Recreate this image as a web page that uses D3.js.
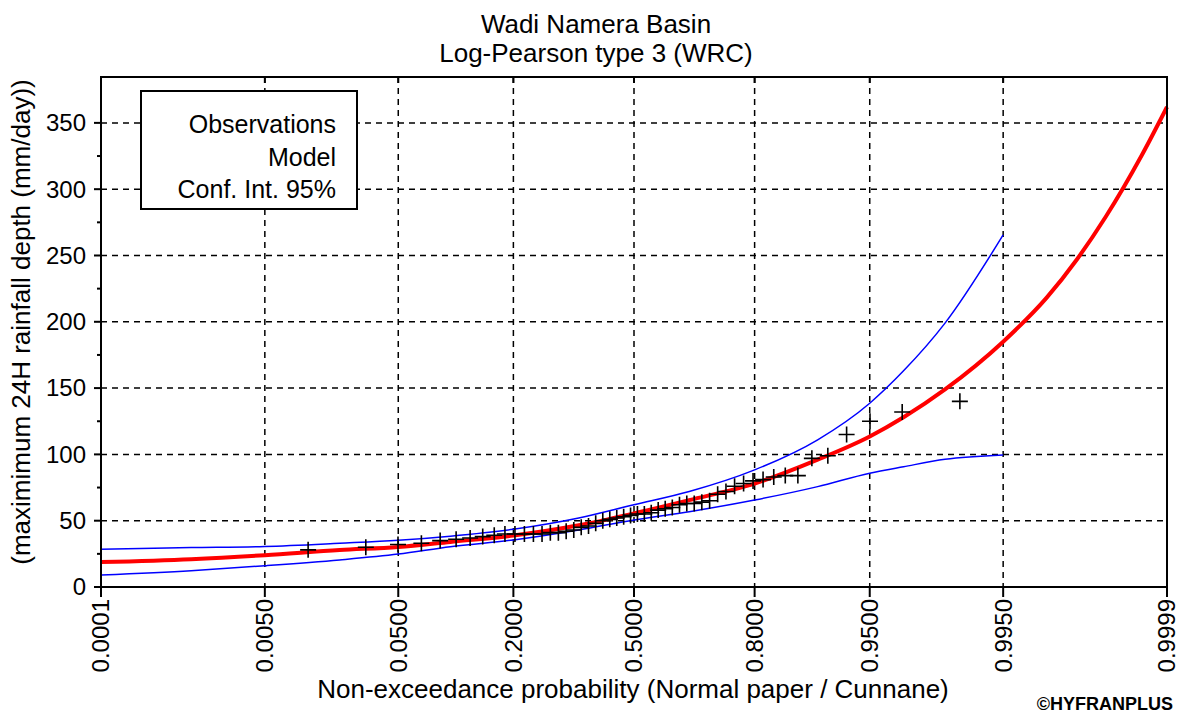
<!DOCTYPE html>
<html>
<head>
<meta charset="utf-8">
<script src="https://cdn.jsdelivr.net/npm/d3@7"></script>
<style>
    body { margin: 0; background: #fff; }
    svg { font-family: "Liberation Sans", Arial, sans-serif; }
    .grid line { stroke: #000; stroke-width: 1.5; stroke-dasharray: 6, 5; }
</style>
</head>
<body>
<div id="graph"></div>
<script>
var consts = {
    width: 1184,
    height: 714,
    left: 101,
    right: 1167,
    top: 77,
    bottom: 587
};

// x tick labels (non-exceedance probability)
var xTicks = [0.0001, 0.0050, 0.0500, 0.2000, 0.5000, 0.8000, 0.9500, 0.9950, 0.9999];
var yTicks = [0, 50, 100, 150, 200, 250, 300, 350];
var yMinorTicks = [25, 75, 125, 175, 225, 275, 325];

// observations: plotting position (Cunnane) and rainfall depth (mm/day)
var obsProb = [0.01149, 0.03065, 0.04981, 0.06897, 0.08812, 0.10728, 0.12644, 0.14559, 0.16475, 0.18391,
    0.20307, 0.22222, 0.24138, 0.26054, 0.27969, 0.29885, 0.31801, 0.33716, 0.35632, 0.37548,
    0.39464, 0.41379, 0.43295, 0.45211, 0.47126, 0.49042, 0.50958, 0.52874, 0.54789, 0.56705,
    0.58621, 0.60536, 0.62452, 0.64368, 0.66284, 0.68199, 0.70115, 0.72031, 0.73946, 0.75862,
    0.77778, 0.79693, 0.81609, 0.83525, 0.85441, 0.87356, 0.89272, 0.91188, 0.93103, 0.95019,
    0.96935, 0.98851];
var obsDepth = [28, 30, 32, 33, 35, 36, 37, 38, 39, 40,
    40, 40, 40, 40, 41, 41, 42, 43, 45, 46,
    48, 50, 51, 52, 53, 54, 55, 55, 56, 58,
    59, 60, 62, 63, 63, 64, 65, 70, 72, 76,
    78, 80, 81, 83, 84, 84, 97, 99, 115, 125,
    132, 140];

// fitted model (Log-Pearson type 3)
var modelProb = [0.0001, 0.001, 0.005, 0.02, 0.05, 0.1, 0.2, 0.35, 0.5, 0.65, 0.8, 0.9, 0.95, 0.97, 0.985, 0.995, 0.998, 0.999, 0.9995, 0.9998, 0.9999];
var modelDepth = [18.8, 21, 24, 27.9, 30.2, 34, 38.8, 46.5, 55.5, 65.5, 78, 96, 113.5, 128, 149, 185, 218, 247, 279, 325, 362];

// 95% confidence interval
var ciProb = [0.0001, 0.001, 0.005, 0.02, 0.05, 0.1, 0.2, 0.35, 0.5, 0.65, 0.8, 0.9, 0.95, 0.97, 0.985, 0.995];
var ciUpper = [28.5, 29.7, 30.6, 33, 35.2, 38.3, 43.5, 52, 62, 72, 88.3, 111, 138.6, 163, 199, 265.5];
var ciLower = [9, 12.3, 16, 20.4, 24.8, 30.4, 35.5, 43, 50.5, 56.8, 65.6, 75.7, 85.8, 90.7, 96.3, 99.6];

/**
 * Inverse of the standard normal cdf (Acklam).
 * @param {Number} p
 */
function probit(p) {
    var a = [-3.969683028665376e+01, 2.209460984245205e+02, -2.759285104469687e+02, 1.383577518672690e+02, -3.066479806614716e+01, 2.506628277459239e+00];
    var b = [-5.447609879822406e+01, 1.615858368580409e+02, -1.556989798598866e+02, 6.680131188771972e+01, -1.328068155288572e+01];
    var c = [-7.784894002430293e-03, -3.223964580411365e-01, -2.400758277161838e+00, -2.549732539343734e+00, 4.374664141464968e+00, 2.938163982698783e+00];
    var d = [7.784695709041462e-03, 3.224671290700398e-01, 2.445134137142996e+00, 3.754408661907416e+00];
    var plow = 0.02425, q, r;
    if (p < plow) {
        q = Math.sqrt(-2 * Math.log(p));
        return (((((c[0] * q + c[1]) * q + c[2]) * q + c[3]) * q + c[4]) * q + c[5]) /
            ((((d[0] * q + d[1]) * q + d[2]) * q + d[3]) * q + 1);
    }
    if (p > 1 - plow) {
        q = Math.sqrt(-2 * Math.log(1 - p));
        return -(((((c[0] * q + c[1]) * q + c[2]) * q + c[3]) * q + c[4]) * q + c[5]) /
            ((((d[0] * q + d[1]) * q + d[2]) * q + d[3]) * q + 1);
    }
    q = p - 0.5;
    r = q * q;
    return (((((a[0] * r + a[1]) * r + a[2]) * r + a[3]) * r + a[4]) * r + a[5]) * q /
        (((((b[0] * r + b[1]) * r + b[2]) * r + b[3]) * r + b[4]) * r + 1);
}

var zScale = d3.scaleLinear()
    .domain([probit(0.0001), probit(0.9999)])
    .range([consts.left, consts.right]);
var x = function (p) { return zScale(probit(p)); };
var y = d3.scaleLinear().domain([0, 384.6]).range([consts.bottom, consts.top]);

var vis = d3.select("#graph").append("svg")
    .attr("width", consts.width)
    .attr("height", consts.height);

vis.append("rect").attr("width", consts.width).attr("height", consts.height).attr("fill", "#fff");

// grid
var grid = vis.append("g").attr("class", "grid");
grid.selectAll(".vgrid")
    .data(xTicks.slice(1, -1))
    .enter().append("line")
    .attr("x1", function (d) { return x(d); })
    .attr("x2", function (d) { return x(d); })
    .attr("y1", consts.top)
    .attr("y2", consts.bottom);
grid.selectAll(".hgrid")
    .data(yTicks.slice(1))
    .enter().append("line")
    .attr("x1", consts.left)
    .attr("x2", consts.right)
    .attr("y1", function (d) { return y(d); })
    .attr("y2", function (d) { return y(d); });

// ticks
var ticks = vis.append("g").attr("stroke", "#000").attr("stroke-width", 2);
ticks.selectAll(".xt")
    .data(xTicks)
    .enter().append("line")
    .attr("x1", function (d) { return x(d); })
    .attr("x2", function (d) { return x(d); })
    .attr("y1", consts.bottom)
    .attr("y2", consts.bottom + 10);
ticks.selectAll(".xtop")
    .data(xTicks)
    .enter().append("line")
    .attr("x1", function (d) { return x(d); })
    .attr("x2", function (d) { return x(d); })
    .attr("y1", consts.top)
    .attr("y2", consts.top + 6);
ticks.selectAll(".yt")
    .data(yTicks)
    .enter().append("line")
    .attr("x1", consts.left - 7)
    .attr("x2", consts.left)
    .attr("y1", function (d) { return y(d); })
    .attr("y2", function (d) { return y(d); });
ticks.selectAll(".ym")
    .data(yMinorTicks)
    .enter().append("line")
    .attr("x1", consts.left - 4)
    .attr("x2", consts.left)
    .attr("y1", function (d) { return y(d); })
    .attr("y2", function (d) { return y(d); });

// tick labels
vis.selectAll(".xlab")
    .data(xTicks)
    .enter().append("text")
    .attr("transform", function (d) { return "translate(" + x(d) + "," + (consts.bottom + 12) + ") rotate(-90)"; })
    .attr("text-anchor", "end")
    .attr("dy", "0.35em")
    .attr("font-size", 24)
    .text(function (d) { return d3.format(".4f")(d); });
vis.selectAll(".ylab")
    .data(yTicks)
    .enter().append("text")
    .attr("x", consts.left - 15)
    .attr("y", function (d) { return y(d); })
    .attr("text-anchor", "end")
    .attr("dy", "0.35em")
    .attr("font-size", 24)
    .text(function (d) { return d; });

// series
var line = d3.line().curve(d3.curveMonotoneX);

vis.append("path")
    .attr("d", line(ciProb.map(function (p, i) { return [x(p), y(ciUpper[i])]; })))
    .attr("fill", "none").attr("stroke", "#0000ff").attr("stroke-width", 1.5);
vis.append("path")
    .attr("d", line(ciProb.map(function (p, i) { return [x(p), y(ciLower[i])]; })))
    .attr("fill", "none").attr("stroke", "#0000ff").attr("stroke-width", 1.5);
vis.append("path")
    .attr("d", line(modelProb.map(function (p, i) { return [x(p), y(modelDepth[i])]; })))
    .attr("fill", "none").attr("stroke", "#ff0000").attr("stroke-width", 4);

vis.selectAll(".obs")
    .data(obsProb)
    .enter().append("path")
    .attr("d", "M-8,0H8M0,-8V8")
    .attr("transform", function (d, i) { return "translate(" + x(d) + "," + y(obsDepth[i]) + ")"; })
    .attr("stroke", "#000").attr("stroke-width", 1.6).attr("fill", "none");

// frame
vis.append("rect")
    .attr("x", consts.left).attr("y", consts.top)
    .attr("width", consts.right - consts.left).attr("height", consts.bottom - consts.top)
    .attr("fill", "none").attr("stroke", "#000").attr("stroke-width", 2);

// legend (text only, as in the original)
var legend = vis.append("g");
legend.append("rect")
    .attr("x", 141).attr("y", 91).attr("width", 216).attr("height", 118)
    .attr("fill", "#fff").attr("stroke", "#000").attr("stroke-width", 2);
legend.selectAll("text")
    .data(["Observations", "Model", "Conf. Int. 95%"])
    .enter().append("text")
    .attr("x", 336)
    .attr("y", function (d, i) { return 133 + i * 32.5; })
    .attr("text-anchor", "end")
    .attr("font-size", 25)
    .text(function (d) { return d; });

// titles
vis.append("text").attr("x", 596).attr("y", 33).attr("text-anchor", "middle").attr("font-size", 26)
    .text("Wadi Namera Basin");
vis.append("text").attr("x", 596).attr("y", 62).attr("text-anchor", "middle").attr("font-size", 26)
    .text("Log-Pearson type 3 (WRC)");
vis.append("text").attr("x", 633).attr("y", 698).attr("text-anchor", "middle").attr("font-size", 26)
    .text("Non-exceedance probability (Normal paper / Cunnane)");
vis.append("text")
    .attr("transform", "translate(30,322) rotate(-90)")
    .attr("text-anchor", "middle").attr("font-size", 26)
    .text("(maximimum 24H rainfall depth (mm/day))");
vis.append("text").attr("x", 1173).attr("y", 710).attr("text-anchor", "end")
    .attr("font-size", 18).attr("font-weight", "bold")
    .text("\u00a9HYFRANPLUS");
</script>
</body>
</html>
